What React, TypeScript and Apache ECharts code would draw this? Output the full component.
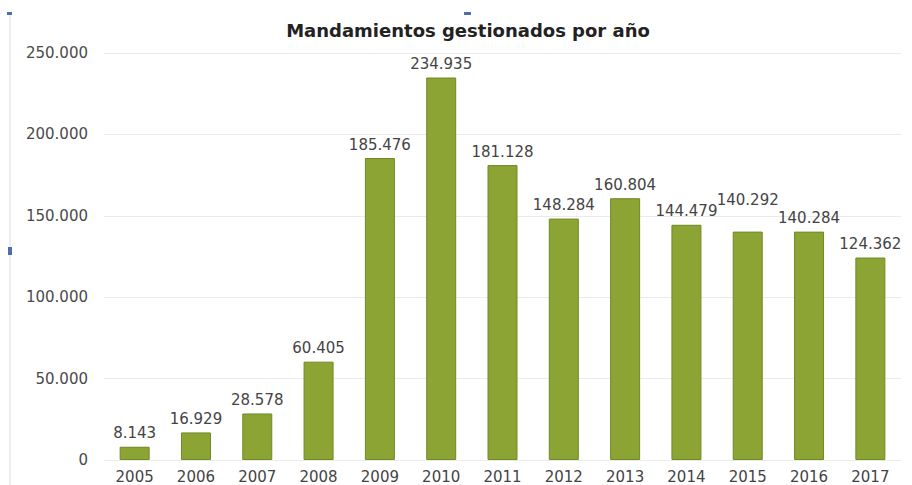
import React, { useEffect, useRef } from "react";
import * as echarts from "echarts";

const years = ["2005","2006","2007","2008","2009","2010","2011","2012","2013","2014","2015","2016","2017"];
const values = [8143, 16929, 28578, 60405, 185476, 234935, 181128, 148284, 160804, 144479, 140292, 140284, 124362];
const titleText = "Mandamientos gestionados por año";

const fmt = (v: number) => {
  const s = String(Math.round(v));
  return s.replace(/\B(?=(\d{3})+(?!\d))/g, ".");
};

const FONT = "DejaVu Sans, Liberation Sans, Arial";
// label lifted to avoid overlap with the neighbouring label (as in the original)
const raisedLabelIndex = 10;

export default function App() {
  const ref = useRef<HTMLDivElement>(null);
  useEffect(() => {
    document.body.style.margin = "0";
    const chart = echarts.init(ref.current!, null, { renderer: "svg" });
    const data = values.map((v, i) =>
      i === raisedLabelIndex ? { value: v, label: { distance: 24 } } : { value: v }
    );
    chart.setOption({
      animation: false,
      backgroundColor: "#ffffff",
      grid: { left: 104, right: 11, top: 53, bottom: 25, containLabel: false },
      xAxis: {
        type: "category",
        data: years,
        axisLine: { show: false },
        axisTick: { show: false },
        axisLabel: { fontFamily: FONT, fontSize: 15, color: "#444", margin: 9 },
      },
      yAxis: {
        type: "value",
        min: 0,
        max: 250000,
        interval: 50000,
        axisLine: { show: false },
        axisTick: { show: false },
        splitLine: { lineStyle: { color: "#ebebeb", width: 1 } },
        axisLabel: {
          fontFamily: FONT,
          fontSize: 15,
          color: "#4a4a4a",
          margin: 16,
          formatter: (v: number) => fmt(v),
        },
      },
      series: [
        {
          type: "bar",
          data,
          barWidth: 30,
          itemStyle: { color: "#8ca434", borderColor: "#708826", borderWidth: 1 },
          label: {
            show: true,
            position: "top",
            distance: 6,
            fontFamily: FONT,
            fontSize: 15,
            color: "#444",
            formatter: (p: any) => fmt(p.value),
          },
        },
      ],
      graphic: [
        {
          type: "text",
          x: 468,
          y: 30,
          style: {
            text: titleText,
            textAlign: "center",
            textVerticalAlign: "middle",
            fontFamily: FONT,
            fontSize: 18,
            fontWeight: "bold",
            fill: "#222",
          },
        },
        { type: "line", shape: { x1: 10, y1: 12, x2: 10, y2: 485 }, style: { stroke: "#dcdcdc", lineWidth: 1 } },
        { type: "rect", shape: { x: 7, y: 12, width: 5, height: 3 }, style: { fill: "#4a6fae" } },
        { type: "rect", shape: { x: 464, y: 12, width: 7, height: 3 }, style: { fill: "#4a6fae" } },
        { type: "rect", shape: { x: 8, y: 247, width: 4, height: 8 }, style: { fill: "#4a6fae" } },
      ],
    });
    return () => chart.dispose();
  }, []);
  return <div ref={ref} style={{ width: 912, height: 485 }} />;
}
